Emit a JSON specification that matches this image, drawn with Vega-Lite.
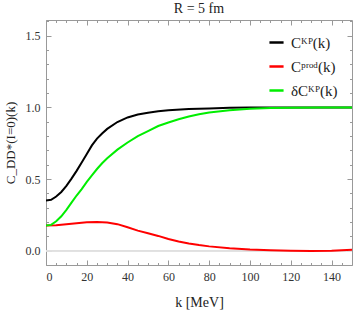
{
  "$schema": "https://vega.github.io/schema/vega-lite/v6.json",
  "width": 306,
  "height": 245,
  "autosize": {"type": "none"},
  "padding": {"left": 46, "top": 20, "right": 2, "bottom": 48},
  "title": {"text": "R = 5 fm", "font": "Liberation Serif", "fontSize": 14, "fontWeight": "normal", "color": "#222", "offset": 4},
  "config": {
    "view": {"stroke": "#999", "strokeWidth": 1},
    "font": "Liberation Serif",
    "axis": {"grid": false, "domain": false, "labelFont": "Liberation Serif", "titleFont": "Liberation Serif", "labelColor": "#333", "titleColor": "#222", "tickColor": "#999"}
  },
  "data": {
    "values": [
      {"k": 0, "v": 0.35, "s": "Cᴷᴾ(k)"},
      {"k": 2.5, "v": 0.355, "s": "Cᴷᴾ(k)"},
      {"k": 5, "v": 0.378, "s": "Cᴷᴾ(k)"},
      {"k": 7.5, "v": 0.41, "s": "Cᴷᴾ(k)"},
      {"k": 10, "v": 0.452, "s": "Cᴷᴾ(k)"},
      {"k": 12.5, "v": 0.503, "s": "Cᴷᴾ(k)"},
      {"k": 15, "v": 0.557, "s": "Cᴷᴾ(k)"},
      {"k": 17.5, "v": 0.615, "s": "Cᴷᴾ(k)"},
      {"k": 20, "v": 0.675, "s": "Cᴷᴾ(k)"},
      {"k": 22.5, "v": 0.735, "s": "Cᴷᴾ(k)"},
      {"k": 25, "v": 0.782, "s": "Cᴷᴾ(k)"},
      {"k": 27.5, "v": 0.818, "s": "Cᴷᴾ(k)"},
      {"k": 30, "v": 0.85, "s": "Cᴷᴾ(k)"},
      {"k": 35, "v": 0.898, "s": "Cᴷᴾ(k)"},
      {"k": 40, "v": 0.93, "s": "Cᴷᴾ(k)"},
      {"k": 45, "v": 0.95, "s": "Cᴷᴾ(k)"},
      {"k": 50, "v": 0.963, "s": "Cᴷᴾ(k)"},
      {"k": 55, "v": 0.973, "s": "Cᴷᴾ(k)"},
      {"k": 60, "v": 0.98, "s": "Cᴷᴾ(k)"},
      {"k": 70, "v": 0.988, "s": "Cᴷᴾ(k)"},
      {"k": 80, "v": 0.993, "s": "Cᴷᴾ(k)"},
      {"k": 90, "v": 0.997, "s": "Cᴷᴾ(k)"},
      {"k": 100, "v": 0.999, "s": "Cᴷᴾ(k)"},
      {"k": 120, "v": 1.0, "s": "Cᴷᴾ(k)"},
      {"k": 150, "v": 1.0, "s": "Cᴷᴾ(k)"},
      {"k": 0, "v": 0.175, "s": "Cᵖʳᵒᵈ(k)"},
      {"k": 5, "v": 0.178, "s": "Cᵖʳᵒᵈ(k)"},
      {"k": 10, "v": 0.185, "s": "Cᵖʳᵒᵈ(k)"},
      {"k": 15, "v": 0.192, "s": "Cᵖʳᵒᵈ(k)"},
      {"k": 20, "v": 0.198, "s": "Cᵖʳᵒᵈ(k)"},
      {"k": 25, "v": 0.2, "s": "Cᵖʳᵒᵈ(k)"},
      {"k": 30, "v": 0.197, "s": "Cᵖʳᵒᵈ(k)"},
      {"k": 35, "v": 0.185, "s": "Cᵖʳᵒᵈ(k)"},
      {"k": 40, "v": 0.163, "s": "Cᵖʳᵒᵈ(k)"},
      {"k": 45, "v": 0.14, "s": "Cᵖʳᵒᵈ(k)"},
      {"k": 50, "v": 0.122, "s": "Cᵖʳᵒᵈ(k)"},
      {"k": 55, "v": 0.103, "s": "Cᵖʳᵒᵈ(k)"},
      {"k": 60, "v": 0.082, "s": "Cᵖʳᵒᵈ(k)"},
      {"k": 65, "v": 0.064, "s": "Cᵖʳᵒᵈ(k)"},
      {"k": 70, "v": 0.05, "s": "Cᵖʳᵒᵈ(k)"},
      {"k": 75, "v": 0.039, "s": "Cᵖʳᵒᵈ(k)"},
      {"k": 80, "v": 0.03, "s": "Cᵖʳᵒᵈ(k)"},
      {"k": 90, "v": 0.017, "s": "Cᵖʳᵒᵈ(k)"},
      {"k": 100, "v": 0.008, "s": "Cᵖʳᵒᵈ(k)"},
      {"k": 110, "v": 0.003, "s": "Cᵖʳᵒᵈ(k)"},
      {"k": 120, "v": 0.0, "s": "Cᵖʳᵒᵈ(k)"},
      {"k": 130, "v": -0.002, "s": "Cᵖʳᵒᵈ(k)"},
      {"k": 140, "v": 0.0, "s": "Cᵖʳᵒᵈ(k)"},
      {"k": 150, "v": 0.007, "s": "Cᵖʳᵒᵈ(k)"},
      {"k": 0, "v": 0.175, "s": "δCᴷᴾ(k)"},
      {"k": 2.5, "v": 0.18, "s": "δCᴷᴾ(k)"},
      {"k": 5, "v": 0.205, "s": "δCᴷᴾ(k)"},
      {"k": 7.5, "v": 0.24, "s": "δCᴷᴾ(k)"},
      {"k": 10, "v": 0.285, "s": "δCᴷᴾ(k)"},
      {"k": 12.5, "v": 0.335, "s": "δCᴷᴾ(k)"},
      {"k": 15, "v": 0.385, "s": "δCᴷᴾ(k)"},
      {"k": 17.5, "v": 0.43, "s": "δCᴷᴾ(k)"},
      {"k": 20, "v": 0.48, "s": "δCᴷᴾ(k)"},
      {"k": 22.5, "v": 0.525, "s": "δCᴷᴾ(k)"},
      {"k": 25, "v": 0.57, "s": "δCᴷᴾ(k)"},
      {"k": 27.5, "v": 0.61, "s": "δCᴷᴾ(k)"},
      {"k": 30, "v": 0.645, "s": "δCᴷᴾ(k)"},
      {"k": 35, "v": 0.705, "s": "δCᴷᴾ(k)"},
      {"k": 40, "v": 0.755, "s": "δCᴷᴾ(k)"},
      {"k": 45, "v": 0.8, "s": "δCᴷᴾ(k)"},
      {"k": 50, "v": 0.835, "s": "δCᴷᴾ(k)"},
      {"k": 55, "v": 0.87, "s": "δCᴷᴾ(k)"},
      {"k": 60, "v": 0.895, "s": "δCᴷᴾ(k)"},
      {"k": 65, "v": 0.917, "s": "δCᴷᴾ(k)"},
      {"k": 70, "v": 0.936, "s": "δCᴷᴾ(k)"},
      {"k": 75, "v": 0.952, "s": "δCᴷᴾ(k)"},
      {"k": 80, "v": 0.965, "s": "δCᴷᴾ(k)"},
      {"k": 90, "v": 0.98, "s": "δCᴷᴾ(k)"},
      {"k": 100, "v": 0.99, "s": "δCᴷᴾ(k)"},
      {"k": 110, "v": 0.995, "s": "δCᴷᴾ(k)"},
      {"k": 120, "v": 0.998, "s": "δCᴷᴾ(k)"},
      {"k": 135, "v": 1.0, "s": "δCᴷᴾ(k)"},
      {"k": 150, "v": 1.0, "s": "δCᴷᴾ(k)"}
    ]
  },
  "resolve": {"axis": {"x": "independent", "y": "independent"}},
  "layer": [
    {
      "mark": {"type": "rule", "color": "#e0e0e0", "strokeWidth": 1},
      "encoding": {"y": {"datum": 0, "type": "quantitative", "axis": null}}
    },
    {
      "mark": {"type": "line", "strokeWidth": 2, "clip": true},
      "encoding": {
        "x": {"field": "k", "type": "quantitative", "scale": {"domain": [0, 150], "nice": false, "zero": false},
              "axis": {"orient": "bottom", "values": [0, 20, 40, 60, 80, 100, 120, 140], "ticks": false, "labelPadding": 6, "labelFontSize": 12, "title": "k [MeV]", "titleFontSize": 14, "titleFontWeight": "normal", "titlePadding": 13}},
        "y": {"field": "v", "type": "quantitative", "scale": {"domain": [-0.1, 1.61], "nice": false, "zero": false},
              "axis": {"orient": "left", "values": [0, 0.5, 1, 1.5], "format": ".1f", "ticks": false, "labelPadding": 6, "labelFontSize": 12, "title": "C_DD*(I=0)(k)", "titleFontSize": 13, "titleFontWeight": "normal", "titlePadding": 8}},
        "color": {"field": "s", "type": "nominal",
                  "scale": {"domain": ["Cᴷᴾ(k)", "Cᵖʳᵒᵈ(k)", "δCᴷᴾ(k)"], "range": ["#000000", "#ff0000", "#00ee00"]},
                  "legend": {"title": null, "orient": "none", "legendX": 222, "legendY": 14, "symbolType": "stroke", "symbolStrokeWidth": 2.5, "symbolSize": 200, "labelFont": "Liberation Serif", "labelFontSize": 15, "labelColor": "#222", "rowPadding": 7, "labelOffset": 6}}
      }
    },
    {
      "mark": {"type": "point", "opacity": 0},
      "encoding": {
        "x": {"field": "k", "type": "quantitative", "axis": {"orient": "bottom", "values": [0, 20, 40, 60, 80, 100, 120, 140], "labels": false, "tickSize": -5, "title": null}},
        "y": {"field": "v", "type": "quantitative", "axis": {"orient": "left", "values": [0, 0.5, 1, 1.5], "labels": false, "tickSize": -5, "title": null}}
      }
    },
    {
      "mark": {"type": "point", "opacity": 0},
      "encoding": {
        "x": {"field": "k", "type": "quantitative", "axis": {"orient": "bottom", "values": [5, 10, 15, 25, 30, 35, 45, 50, 55, 65, 70, 75, 85, 90, 95, 105, 110, 115, 125, 130, 135, 145], "labels": false, "tickSize": -2.5, "title": null}},
        "y": {"field": "v", "type": "quantitative", "axis": {"orient": "left", "values": [-0.1, 0.1, 0.2, 0.3, 0.4, 0.6, 0.7, 0.8, 0.9, 1.1, 1.2, 1.3, 1.4, 1.6], "labels": false, "tickSize": -2.5, "title": null}}
      }
    },
    {
      "mark": {"type": "point", "opacity": 0},
      "encoding": {
        "x": {"field": "k", "type": "quantitative", "axis": {"orient": "top", "values": [0, 20, 40, 60, 80, 100, 120, 140], "labels": false, "tickSize": -5, "title": null}},
        "y": {"field": "v", "type": "quantitative", "axis": {"orient": "right", "values": [0, 0.5, 1, 1.5], "labels": false, "tickSize": -5, "title": null}}
      }
    },
    {
      "mark": {"type": "point", "opacity": 0},
      "encoding": {
        "x": {"field": "k", "type": "quantitative", "axis": {"orient": "top", "values": [5, 10, 15, 25, 30, 35, 45, 50, 55, 65, 70, 75, 85, 90, 95, 105, 110, 115, 125, 130, 135, 145], "labels": false, "tickSize": -2.5, "title": null}},
        "y": {"field": "v", "type": "quantitative", "axis": {"orient": "right", "values": [-0.1, 0.1, 0.2, 0.3, 0.4, 0.6, 0.7, 0.8, 0.9, 1.1, 1.2, 1.3, 1.4, 1.6], "labels": false, "tickSize": -2.5, "title": null}}
      }
    }
  ]
}
